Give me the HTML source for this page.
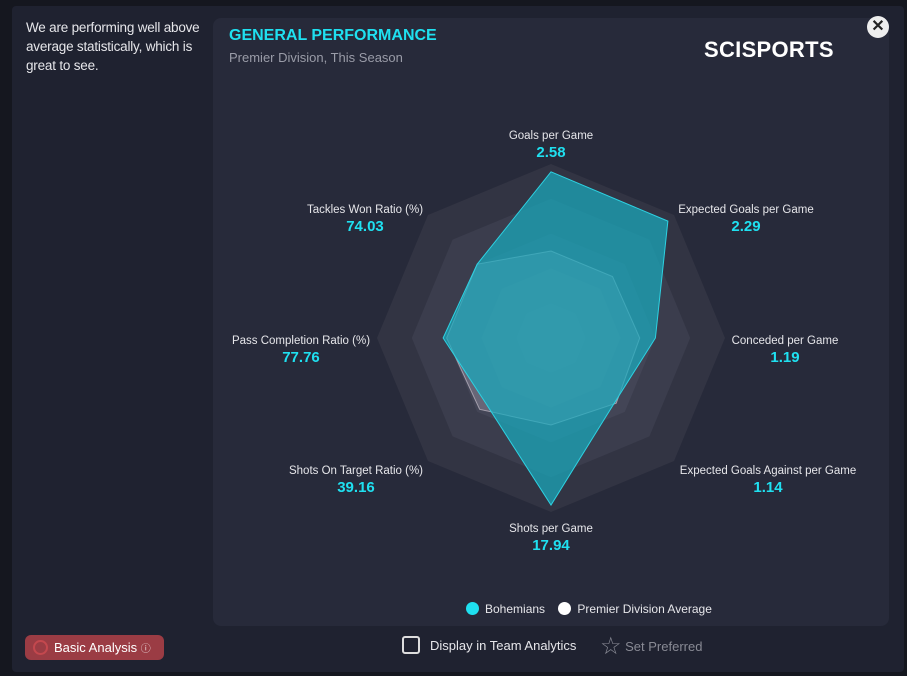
<!DOCTYPE html>
<html><head><meta charset="utf-8"><style>
body{margin:0;width:907px;height:676px;background:#15171f;font-family:"Liberation Sans",sans-serif;overflow:hidden;position:relative}
.dlg{position:absolute;left:12px;top:6px;width:892px;height:666px;background:#1f2230;border-radius:4px}
.panel{position:absolute;left:213px;top:18px;width:676px;height:608px;background:#272a3a;border-radius:8px}
.t{position:absolute;white-space:nowrap}
</style></head><body>
<div class="dlg"></div>
<div class="t" style="left:26px;top:18px;color:#e6e6ea;font-size:13.5px;line-height:19px;letter-spacing:-0.2px">We are performing well above<br>average statistically, which is<br>great to see.</div>
<div class="panel"></div>
<div class="t" style="left:229px;top:27px;color:#1fe0f0;font-size:16px;font-weight:bold">GENERAL PERFORMANCE</div>
<div class="t" style="left:229px;top:50px;color:#9a9ca8;font-size:13px">Premier Division, This Season</div>
<div class="t" style="left:704px;top:37px;color:#fff;font-size:22px;font-weight:bold;letter-spacing:0.3px">SCISPORTS</div>
<div style="position:absolute;left:867px;top:16px;width:22px;height:22px;border-radius:50%;background:#eee;color:#222;font-size:16px;font-weight:bold;text-align:center;line-height:22px">✕</div>
<svg id="radar" width="907" height="676" style="position:absolute;left:0;top:0"></svg>
<div class="t" style="left:466px;top:602px;color:#e6e6ea;font-size:12px">
<span><span style="display:inline-block;width:13px;height:13px;border-radius:50%;background:#1fe0f0;vertical-align:-2px;margin-right:6px"></span>Bohemians</span>
<span style="margin-left:10px"><span style="display:inline-block;width:13px;height:13px;border-radius:50%;background:#fff;vertical-align:-2px;margin-right:6px"></span>Premier Division Average</span></div>
<div style="position:absolute;left:25px;top:635px;width:139px;height:25px;background:#9b3c44;border-radius:6px;color:#fff;font-size:13px;line-height:25px">
<span style="display:inline-block;width:11px;height:11px;border:2px solid #c4484e;border-radius:50%;vertical-align:-3px;margin:0 6px 0 8px"></span>Basic Analysis <span style="font-size:10px;opacity:.8">ⓘ</span></div>
<div class="t" style="left:402px;top:636px;color:#e6e6ea;font-size:13px">
<span style="display:inline-block;width:14px;height:14px;border:2px solid #ddd;border-radius:3px;vertical-align:-4px;margin-right:10px"></span>Display in Team Analytics</div>
<div class="t" style="left:600px;top:632px;color:#888a94;font-size:13px"><span style="font-size:24px;vertical-align:-3px">☆</span> Set Preferred</div>
<script>
const categories=["Goals per Game","Expected Goals per Game","Conceded per Game","Expected Goals Against per Game","Shots per Game","Shots On Target Ratio (%)","Pass Completion Ratio (%)","Tackles Won Ratio (%)"];
const valueLabels=["2.58","2.29","1.19","1.14","17.94","39.16","77.76","74.03"];
const teamScores=[0.955,0.95,0.6,0.52,0.96,0.53,0.62,0.6];
const avgScores=[0.5,0.5,0.51,0.53,0.5,0.58,0.6,0.6];
const ringLevels=[1,0.8,0.6,0.4,0.2];
const svg=document.getElementById('radar');const NS='http://www.w3.org/2000/svg';
const cx=551,cy=338,R=174;
const labelX=[551,746,785,768,551,356,301,365];
const labelY=[135,209,340,470,528,470,340,209];
function pt(i,v){const a=i*Math.PI/4;return [cx+R*v*Math.sin(a),cy-R*v*Math.cos(a)];}
function poly(vals){return vals.map((v,i)=>pt(i,v).join(',')).join(' ');}
const ringCols=['#323443','#3b3d4d','#434556','#494b5b','#4e5060'];
ringLevels.forEach((l,k)=>{const p=document.createElementNS(NS,'polygon');


p.setAttribute('points',poly(categories.map(()=>l)));p.setAttribute('fill',ringCols[k]);svg.appendChild(p);});
const a=document.createElementNS(NS,'polygon');


a.setAttribute('points',poly(avgScores));a.setAttribute('fill','rgba(230,225,235,0.22)');a.setAttribute('stroke','rgba(240,230,240,0.5)');svg.appendChild(a);
const t=document.createElementNS(NS,'polygon');


t.setAttribute('points',poly(teamScores));t.setAttribute('fill','rgba(25,170,190,0.72)');t.setAttribute('stroke','#2dd2e2');t.setAttribute('stroke-width','1');svg.appendChild(t);
categories.forEach((c,i)=>{const x=labelX[i],y=labelY[i];
const l=document.createElementNS(NS,'text');


l.setAttribute('x',x);l.setAttribute('y',y+4);l.setAttribute('text-anchor','middle');l.setAttribute('fill','#e6e6ea');l.setAttribute('font-size','11.5');l.textContent=c;svg.appendChild(l);
const v=document.createElementNS(NS,'text');


v.setAttribute('x',x);v.setAttribute('y',y+22);v.setAttribute('text-anchor','middle');v.setAttribute('fill','#1fe0f0');v.setAttribute('font-size','15');v.setAttribute('font-weight','bold');v.textContent=valueLabels[i];svg.appendChild(v);});
</script>
</body></html>
